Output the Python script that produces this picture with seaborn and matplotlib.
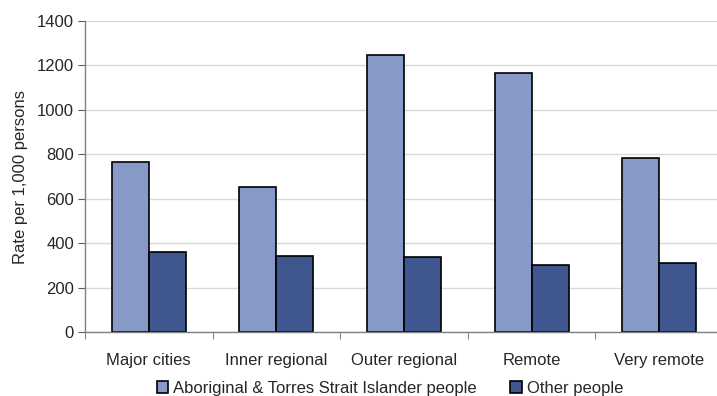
import numpy as np
import pandas as pd
import matplotlib.pyplot as plt
import seaborn as sns

categories = ["Major cities", "Inner regional", "Outer regional", "Remote", "Very remote"]
series_names = ["Aboriginal & Torres Strait Islander people", "Other people"]
indigenous = [764, 651, 1248, 1165, 785]
other = [359, 344, 336, 302, 309]
colors = ["#8799C6", "#3F568F"]

df = pd.DataFrame({
    "region": categories * 2,
    "group": [series_names[0]] * 5 + [series_names[1]] * 5,
    "rate": indigenous + other,
})

sns.set_style("white")
plt.rcParams["font.family"] = ["Liberation Sans", "DejaVu Sans"]
plt.rcParams["font.size"] = 12

fig = plt.figure(figsize=(7.17, 3.96), dpi=100)
ax = fig.add_axes([85 / 717, 64 / 396, 638 / 717, 311 / 396])

sns.barplot(data=df, x="region", y="rate", hue="group", order=categories,
            hue_order=series_names, palette=colors, saturation=1, width=0.58,
            edgecolor="black", linewidth=1.2, ax=ax, legend=True)

ax.set_ylim(0, 1400)
ax.set_yticks(np.arange(0, 1401, 200))
ax.set_xlim(-0.5, len(categories) - 0.5)
ax.yaxis.grid(True, color="#d9d9d9", linewidth=1.0)
ax.set_axisbelow(True)
for side in ["top", "right"]:
    ax.spines[side].set_visible(False)
for side in ["left", "bottom"]:
    ax.spines[side].set_color("#808080")
    ax.spines[side].set_linewidth(1.0)

ax.tick_params(axis="y", length=5, color="#606060", labelsize=12, pad=3, left=True)
ax.tick_params(axis="x", which="major", length=0, labelsize=12, pad=15)
ax.set_xticks(np.arange(-0.5, len(categories), 1.0), minor=True)
ax.tick_params(axis="x", which="minor", length=5, color="#606060", bottom=True)
ax.set_xlabel("")
ax.set_ylabel("Rate per 1,000 persons", fontsize=12, labelpad=6)

handles, labels = ax.get_legend_handles_labels()
ax.get_legend().remove()
fig.legend(handles, labels, loc="center", bbox_to_anchor=(390 / 717, 8 / 396),
           ncol=2, frameon=False, fontsize=12, handlelength=0.7, handleheight=0.7,
           handletextpad=0.3, columnspacing=2.0, borderaxespad=0)

fig.savefig("out.png", dpi=100)
